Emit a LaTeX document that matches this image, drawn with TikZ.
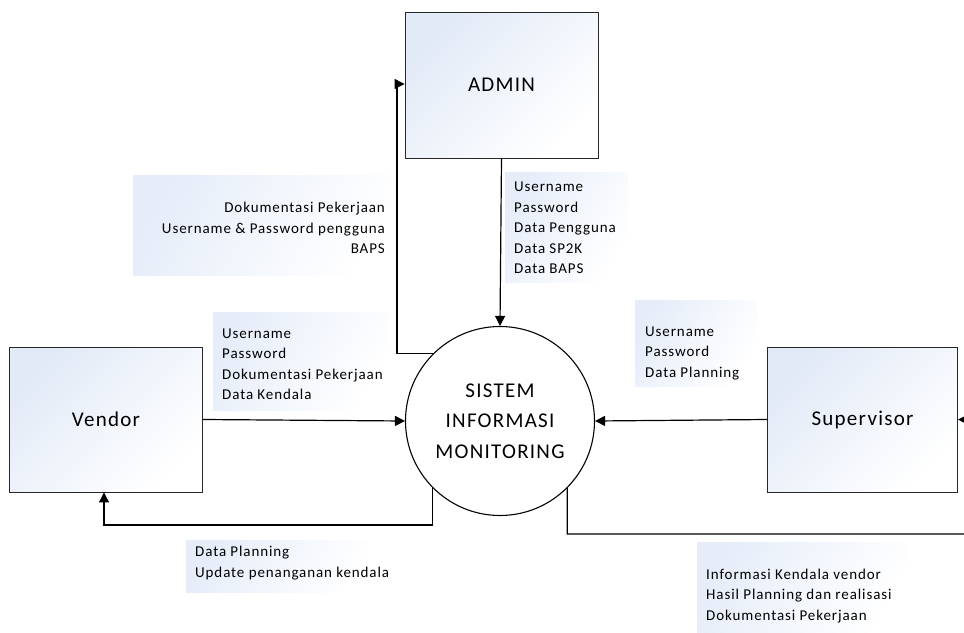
\documentclass[tikz,border=0pt]{standalone}
\usepackage{fontspec}
\setmainfont{Carlito}
\newfontfamily\lblfont[LetterSpace=6]{Carlito}
\usetikzlibrary{arrows.meta,calc}
\definecolor{boxblue}{RGB}{226,234,247}
\definecolor{lblblue}{RGB}{230,237,249}
\definecolor{edgegray}{RGB}{40,40,40}
\tikzset{
  entity/.style={draw=edgegray, line width=0.9pt, rectangle, inner sep=0pt,
    top color=boxblue, bottom color=white, shading angle=45,
    font=\lblfont\fontsize{21}{30}\selectfont},
  proc/.style={draw=black, line width=1.1pt, circle, fill=white, inner sep=0pt,
    minimum size=189pt, align=center, font=\lblfont\fontsize{21}{30.5}\selectfont},
  lblbox/.style={rectangle, inner sep=0pt, draw=none,
    top color=lblblue, bottom color=white, shading angle=60},
  lbltext/.style={inner sep=0pt, font=\lblfont\fontsize{15}{20.5}\selectfont},
  flow/.style={draw=black, line width=1.2pt, -{Triangle[length=10pt,width=10pt]}},
}
\begin{document}
\begin{tikzpicture}[x=1pt,y=-1pt]
  \useasboundingbox (0,0) rectangle (964,632);
  \fill[white] (0,0) rectangle (964,632);

  % shaded backgrounds behind the flow labels
  \node[lblbox, minimum width=265pt, minimum height=100pt] (bgA) at (265.5,225) {};
  \node[lblbox, minimum width=123pt, minimum height=110pt] (bgB) at (566.5,227) {};
  \node[lblbox, minimum width=175pt, minimum height=98pt] (bgC) at (300.5,361) {};
  \node[lblbox, minimum width=122pt, minimum height=86pt] (bgD) at (696,343) {};
  \node[lblbox, minimum width=190pt, minimum height=52pt] (bgE) at (281,566) {};
  \node[lblbox, minimum width=210pt, minimum height=92pt] (bgF) at (802,588) {};

  % external entities and the process
  \node[entity, minimum width=193pt, minimum height=146pt] (admin) at (501.5,85) {ADMIN};
  \node[entity, minimum width=193pt, minimum height=145pt] (vendor) at (106,419.5) {Vendor};
  \node[entity, minimum width=190pt, minimum height=145pt] (sup) at (862.5,419.5) {Supervisor};
  \node[proc] (sim) at (500,421) {SISTEM\\INFORMASI\\MONITORING};

  % bend points of the data flows
  \coordinate (k1) at (397,84);
  \coordinate (k2) at (104,525);
  \coordinate (k3) at (990,534);
  \coordinate (k4) at (990,420);

  % data flows
  \draw[flow] (admin.south) -- (sim.north);
  \draw[flow] (sim.135) -| (k1) -- (admin.west |- k1);
  \draw[flow] (vendor.east) -- (sim.west);
  \draw[flow] (sup.west) -- (sim.east);
  \draw[flow] (sim.225) |- (k2) -- (k2 |- vendor.south);
  \draw[flow] (sim.315) |- (k3) -- (k4) -- (sup.east);

  % flow labels
  \node[lbltext, align=right, anchor=east] (tA) at (385,228)
    {Dokumentasi Pekerjaan\\Username \& Password pengguna\\BAPS};
  \node[lbltext, align=left, anchor=west] (tB) at (514,228)
    {Username\\Password\\Data Pengguna\\Data SP2K\\Data BAPS};
  \node[lbltext, align=left, anchor=west] (tC) at (222,364)
    {Username\\Password\\Dokumentasi Pekerjaan\\Data Kendala};
  \node[lbltext, align=left, anchor=west] (tD) at (645,353)
    {Username\\Password\\Data Planning};
  \node[lbltext, align=left, anchor=west] (tE) at (195,563)
    {Data Planning\\Update penanganan kendala};
  \node[lbltext, align=left, anchor=west] (tF) at (706,596)
    {Informasi Kendala vendor\\Hasil Planning dan realisasi\\Dokumentasi Pekerjaan};
\end{tikzpicture}
\end{document}
